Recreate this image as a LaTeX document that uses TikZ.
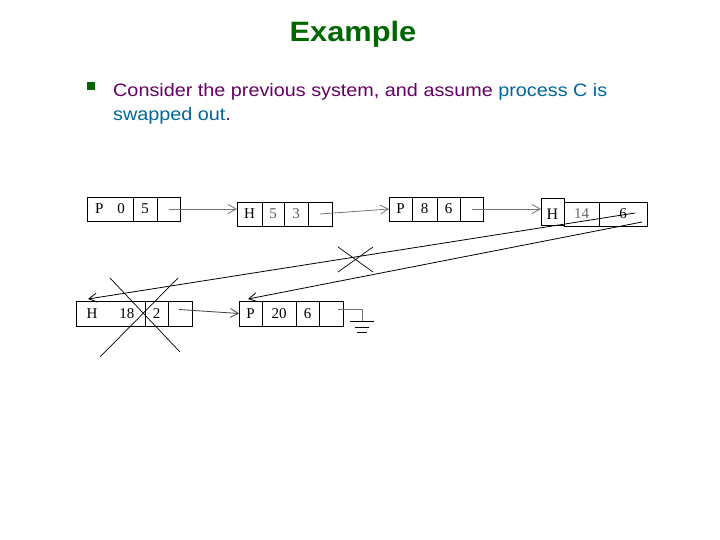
\documentclass[tikz,border=0pt]{standalone}
\usepackage{fontspec}
\setmainfont[FakeStretch=1.1]{Liberation Sans}
\newfontfamily\cellfont{Liberation Serif}
\usetikzlibrary{arrows.meta,positioning}
\definecolor{titlegreen}{RGB}{0,102,0}
\definecolor{textpurple}{RGB}{102,0,102}
\definecolor{textblue}{RGB}{0,102,153}

\begin{document}
\begin{tikzpicture}[
    x=1pt, y=-1pt,
    cell/.style={rectangle, draw, line width=0.8pt, minimum height=24pt, inner sep=0pt, outer sep=0pt, font=\cellfont\fontsize{15}{15}\selectfont},
    link/.style={->, >={Straight Barb[length=8pt,width=9pt]}, line width=0.8pt},
    cross/.style={line width=0.7pt}
]
\useasboundingbox (0,0) rectangle (720,540);

% Title
\node[font=\bfseries\fontsize{28}{32}\selectfont, text=titlegreen] (title) at (353,34) {Example};

% Bullet text
\node[fill=titlegreen, minimum size=7.5pt, inner sep=0pt] (bullet) at (91,86) {};
\node[anchor=base west, font=\fontsize{18}{22}\selectfont, inner sep=0pt] (intro1) at (113,97) {\textcolor{textpurple}{Consider the previous system, and assume} \textcolor{textblue}{process C is}};
\node[anchor=base west, font=\fontsize{18}{22}\selectfont, inner sep=0pt] (intro2) at (113,121) {\textcolor{textblue}{swapped out}\textcolor{textpurple}{.}};

% Top row: first list
\node[cell, minimum width=46pt] (a1) at (110,209) {P\hspace{14pt}0};
\node[cell, minimum width=24pt] (a2) at (145,209) {5};
\node[cell, minimum width=23pt] (a3) at (168.5,209) {};

\node[cell, minimum width=25pt] (b1) at (249.5,214) {H};
\node[cell, minimum width=22pt, text=black!65] (b2) at (273,214) {5};
\node[cell, minimum width=24pt, text=black!65] (b3) at (296,214) {3};
\node[cell, minimum width=24pt] (b4) at (320,214) {};

\node[cell, minimum width=23pt] (c1) at (400.5,209) {P};
\node[cell, minimum width=25pt] (c2) at (424.5,209) {8};
\node[cell, minimum width=23pt] (c3) at (448.5,209) {6};
\node[cell, minimum width=23pt] (c4) at (471.5,209) {};

\node[cell, minimum width=35pt, text=black!60, text depth=-4pt] (d2) at (581.5,214) {14};
\node[cell, minimum width=48pt, text depth=-4pt] (d3) at (623,214) {6};
\node[cell, minimum width=23pt, minimum height=27pt, line width=1pt, anchor=north, font=\cellfont\fontsize{16}{16}\selectfont, text height=15pt] (d1) at (552.5,199) {H};

% Bottom row
\node[cell, minimum width=69pt, minimum height=25pt] (e1) at (110.5,313.5) {H\hspace{22pt}18};
\node[cell, minimum width=23pt, minimum height=25pt] (e2) at (156.5,313.5) {2};
\node[cell, minimum width=24pt, minimum height=25pt] (e3) at (180,313.5) {};

\node[cell, minimum width=23pt, minimum height=25pt] (f1) at (250.5,313.5) {P};
\node[cell, minimum width=34pt, minimum height=25pt] (f2) at (279,313.5) {20};
\node[cell, minimum width=23pt, minimum height=25pt] (f3) at (307.5,313.5) {6};
\node[cell, minimum width=24pt, minimum height=25pt] (f4) at (331,313.5) {};

% Links
\draw[link, black!55] (a3.center) -- (a3.center -| b1.west);
\draw[link, black!55] (b4.center) -- (c1.west);
\draw[link, black!55] (c4.center) -- (c4.center -| d1.west);
\draw[link, black!75] ([xshift=-1pt,yshift=4pt]e3.center) -- (f1.west);

% Long links back to the bottom row
\coordinate (tailA) at ([xshift=12pt,yshift=1pt]d3.center);
\coordinate (tailB) at ([xshift=19pt,yshift=-8pt]d3.center);
\coordinate (headA) at ([xshift=12pt,yshift=2pt]e1.north west);
\coordinate (headB) at ([xshift=9pt,yshift=2pt]f1.north west);
\draw[link] (tailA) -- (headA);
\draw[link] (tailB) -- (headB);

% Ground
\coordinate (gnd) at (362,321);
\draw[black!55, line width=0.8pt] ([xshift=7pt,yshift=4.5pt]f4.center) -| (gnd);
\draw[line width=0.8pt] (350,321) -- (374,321);
\draw[line width=0.8pt] (355,327) -- (369,327);
\draw[line width=0.8pt] (357,332) -- (367,332);

% Crossed out
\draw[cross] (338,247) -- (373,272);
\draw[cross] (338,272) -- (373,247);
\draw[cross] (100,357) -- (178,278);
\draw[cross] (110,278) -- (180,352);

\end{tikzpicture}
\end{document}
